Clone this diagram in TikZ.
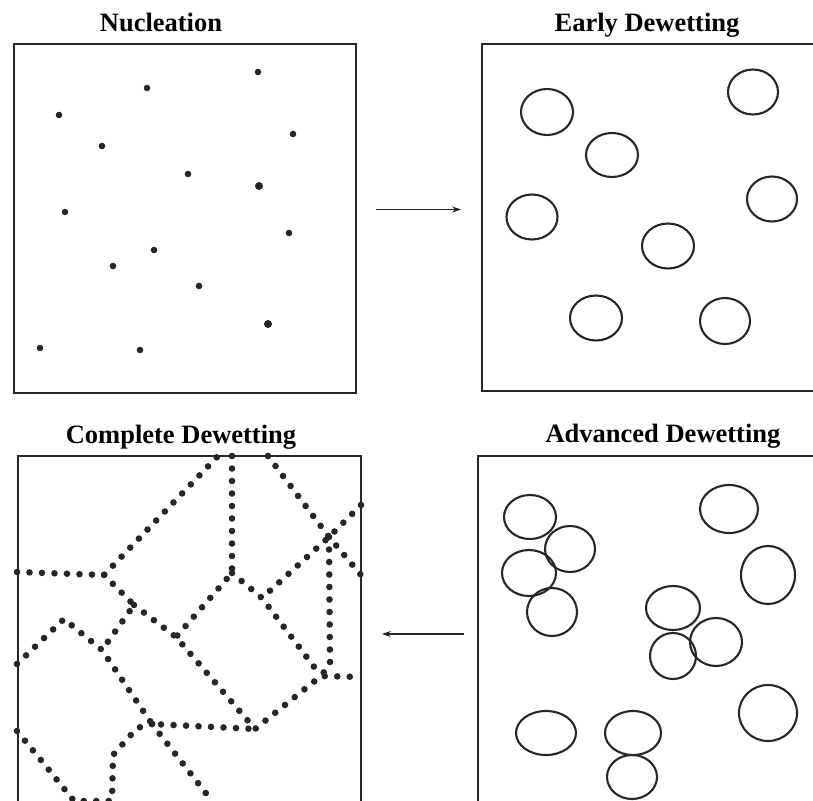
\documentclass[tikz,border=0pt]{standalone}
\usepackage{fontspec}
\setmainfont{Liberation Serif}
\usepackage{xcolor}
\usepackage{tikz}
\usetikzlibrary{arrows.meta,positioning}
\definecolor{ink}{HTML}{262626}

\begin{document}
\begin{tikzpicture}[x=1pt, y=-1pt,
  box/.style={draw=ink, line width=1.8pt, inner sep=0pt},
  lbl/.style={anchor=base, font=\fontsize{26.5}{30}\selectfont\bfseries},
  arr/.style={-{Stealth[length=9pt,width=6pt]}, line width=1.2pt, ink},
  ring/.style={draw=ink, line width=2.1pt},
  bound/.style={ink, line width=6.6pt, line cap=round, dash pattern=on 0pt off 12.5pt}]
\useasboundingbox (0,0) rectangle (813,800);
\clip (0,0) rectangle (813,800);

% the four stages
\node[box, minimum width=342pt, minimum height=349pt] (nuc) at (185,218.5) {};
\node[box, minimum width=358pt, minimum height=347pt] (early) at (661,217.5) {};
\node[box, minimum width=343pt, minimum height=356pt] (comp) at (189.5,634) {};
\node[box, minimum width=362pt, minimum height=356pt] (adv) at (659,634) {};

\node[lbl] (tnuc) at (161,32) {Nucleation};
\node[lbl] (tearly) at (647,32) {Early Dewetting};
\node[lbl] (tcomp) at (181,443) {Complete Dewetting};
\node[lbl] (tadv) at (663,442) {Advanced Dewetting};

\draw[arr, shorten <=19pt, shorten >=20pt] ([yshift=9pt]nuc.east) -- ([yshift=9pt]nuc.east -| early.west);
\draw[arr, shorten <=13pt, shorten >=20pt] (adv.west) -- (comp.east);

% nuclei
\foreach \x/\y/\r in {258/72/3.3, 147/88/3.3, 59/115/3.3, 293/134/3.3, 102/146/3.3, 188/174/3.3,
    259/186/4, 65/212/3.3, 289/233/3.3, 154/250/3.3, 113/266/3.3, 199/286/3.3,
    268/324/4, 40/348/3.3, 140/350/3.3}
  \fill[ink] (\x,\y) circle[radius=\r];

% holes, early stage
\foreach \x/\y/\a/\b in {547/112/26/23, 753/92/25/22.5, 612/155/26/22, 772/199/25/22.5,
    532/217/25.5/22.5, 668/246/26/22.5, 596/318/26/22.5, 725/321/25/23}
  \draw[ring] (\x,\y) ellipse[x radius=\a, y radius=\b];

% holes, advanced stage
\foreach \x/\y/\a/\b in {530/517/26/22, 570/549/25/23, 529/573/27/23, 552/612/25/24,
    729/509/29/24, 768/575/27/29, 673/608/27/22, 716/642/26/24, 673/656/23/23,
    768/713/29/28, 546/733/30/22, 633/733/28/22, 632/777/25/22}
  \draw[ring] (\x,\y) ellipse[x radius=\a, y radius=\b];

% rims of the dewetted film
\coordinate (j1) at (104,575);
\coordinate (j11) at (134,605);
\coordinate (j10) at (102,650);
\coordinate (j7) at (176,637);
\coordinate (j9) at (152,724);
\coordinate (j8) at (255,729);
\coordinate (j5) at (321,676);
\coordinate (j4) at (262,598);
\coordinate (j2) at (232,573);
\coordinate (j3) at (329,537);

\draw[bound] (17,572) -- (j1) -- (218,456);
\draw[bound] (j1) -- (j11) -- (j10);
\draw[bound] (j11) -- (j7) -- (j8) -- (j5) -- (361,677);
\draw[bound] (17,664) -- (64,619) -- (j10) -- (j9) -- (j8);
\draw[bound] (232,456) -- (j2) -- (j7);
\draw[bound] (j2) -- (j4) -- (j5);
\draw[bound] (268,456) -- (j3) -- (361,575);
\draw[bound] (361,505) -- (j3) -- (j4);
\draw[bound] (j3) -- (330,664) -- (j5);
\draw[bound] (j9) -- (137,728) -- (113,755) -- (112,801);
\draw[bound] (j9) -- (212,801);
\draw[bound] (17,731) -- (45,765) -- (74,801) -- (115,801);
\end{tikzpicture}
\end{document}
